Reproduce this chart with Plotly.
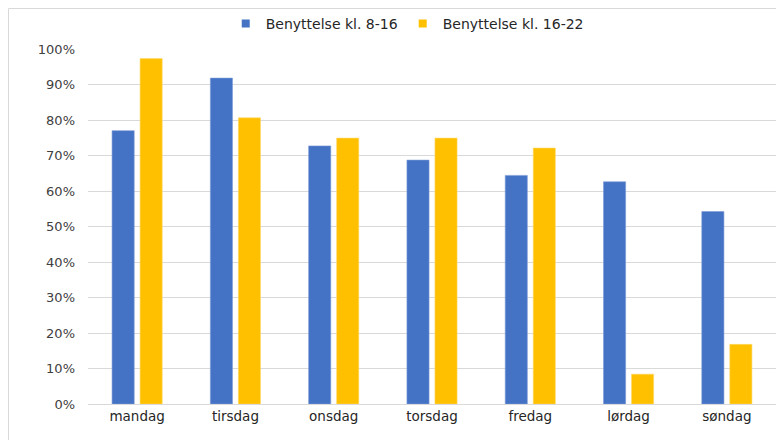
import plotly.graph_objects as go

days = ["mandag", "tirsdag", "onsdag", "torsdag", "fredag", "lørdag", "søndag"]
series_names = ["Benyttelse kl. 8-16", "Benyttelse kl. 16-22"]
series_colors = ["#4472C4", "#FFC000"]
values_8_16 = [0.77, 0.918, 0.727, 0.687, 0.644, 0.626, 0.542]
values_16_22 = [0.973, 0.806, 0.749, 0.749, 0.721, 0.084, 0.168]
y_ticks = [0, 0.1, 0.2, 0.3, 0.4, 0.5, 0.6, 0.7, 0.8, 0.9, 1.0]

W, H = 776, 432
L, R, T, B = 80, 8, 41, 36
pw, ph = W - L - R, H - T - B

fig = go.Figure()
fig.add_trace(go.Bar(x=days, y=values_8_16, name=series_names[0], showlegend=False,
                     legendgroup="a",
                     marker=dict(color=series_colors[0], line=dict(color="#7a9bd6", width=0.6))))
fig.add_trace(go.Bar(x=days, y=values_16_22, name=series_names[1], showlegend=False,
                     legendgroup="b",
                     marker=dict(color=series_colors[1], line=dict(color="#ffd966", width=0.6))))
# legend entries with small square swatches
for name, col, grp in zip(series_names, series_colors, ["a", "b"]):
    fig.add_trace(go.Scatter(x=[None], y=[None], mode="markers", name=name, legendgroup=grp,
                             marker=dict(symbol="square", size=8, color=col)))

fig.update_layout(
    width=W, height=H,
    margin=dict(l=L, r=R, t=T, b=B, autoexpand=False),
    paper_bgcolor="white", plot_bgcolor="white",
    barmode="group", bargap=0.43, bargroupgap=0.21,
    font=dict(family="DejaVu Sans, sans-serif", size=13, color="#404040"),
    legend=dict(orientation="h", x=0.464, xanchor="center", y=1.0, yanchor="top",
                yref="container", font=dict(size=14, color="#262626"),
                bgcolor="rgba(0,0,0,0)", itemwidth=30, traceorder="normal"),
    xaxis=dict(showgrid=False, showline=True, linecolor="#d9d9d9", linewidth=1,
               ticks="", tickfont=dict(size=13.5, color="#262626"), ticklabelstandoff=0),
    yaxis=dict(range=[0, 1.0], tickvals=y_ticks, tickformat=".0%",
               showgrid=True, gridcolor="#d9d9d9", gridwidth=1,
               zeroline=False, showline=False, ticks="",
               tickfont=dict(size=13, color="#404040"), ticklabelstandoff=12),
    shapes=[
        dict(type="line", xref="paper", yref="paper",
             x0=(0.5 - L) / pw, x1=(0.5 - L) / pw, y0=-B / ph, y1=(ph + T - 0.5) / ph,
             line=dict(color="#d9d9d9", width=1), layer="below"),
        dict(type="line", xref="paper", yref="paper",
             x0=(0.5 - L) / pw, x1=(W - L) / pw, y0=(ph + T - 0.5) / ph, y1=(ph + T - 0.5) / ph,
             line=dict(color="#d9d9d9", width=1), layer="below"),
    ],
)

fig.write_html("out.html")
